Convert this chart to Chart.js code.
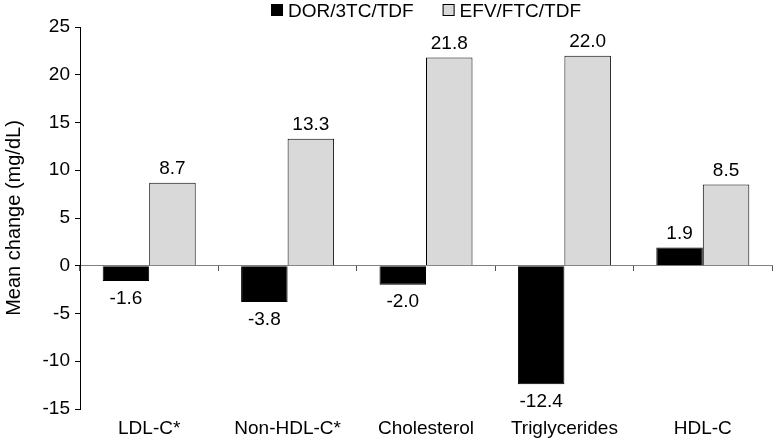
<!DOCTYPE html>
<html><head><meta charset="utf-8">
<script src="https://cdn.jsdelivr.net/npm/chart.js@4/dist/chart.umd.min.js"></script>
<style>html,body{margin:0;padding:0;background:#fff}#wrap{width:774px;height:443px;position:relative}</style>
</head><body><div id="wrap"><canvas id="c" width="774" height="443"></canvas></div>
<script>
const categories = ['LDL-C*', 'Non-HDL-C*', 'Cholesterol', 'Triglycerides', 'HDL-C'];
const dorValues = [-1.6, -3.8, -2.0, -12.4, 1.9];
const efvValues = [8.7, 13.3, 21.8, 22.0, 8.5];
const seriesNames = ['DOR/3TC/TDF', 'EFV/FTC/TDF'];
const yMin = -15, yMax = 25, yStep = 5;
const yTitle = 'Mean change (mg/dL)';

const FONT = "'Liberation Sans', Arial, sans-serif";
const FS = 19;

const valueLabels = {
  id: 'valueLabels',
  afterDatasetsDraw(chart) {
    const ctx = chart.ctx;
    ctx.save();
    ctx.font = FS + 'px ' + FONT;
    ctx.fillStyle = '#000';
    ctx.textAlign = 'center';
    ctx.textBaseline = 'alphabetic';
    chart.data.datasets.forEach((ds, i) => {
      const meta = chart.getDatasetMeta(i);
      meta.data.forEach((bar, j) => {
        const v = ds.data[j];
        const y = v >= 0 ? bar.y - 9 : bar.y + 9 + 13.6;
        ctx.fillText(v.toFixed(1), bar.x, y);
      });
    });
    ctx.restore();
  }
};

const topLegend = {
  id: 'topLegend',
  afterDraw(chart) {
    const ctx = chart.ctx;
    const ca = chart.chartArea;
    ctx.save();
    ctx.font = FS + 'px ' + FONT;
    const box = 12, gap = 5, spacing = 29;
    const items = chart.data.datasets.map(ds => ({ text: ds.label, fill: ds.backgroundColor, w: ctx.measureText(ds.label).width }));
    let total = 0;
    items.forEach((it, i) => { total += box + gap + it.w + (i ? spacing : 0); });
    let x = (ca.left + ca.right) / 2 - total / 2;
    const boxTop = 4, baseline = 16.7;
    items.forEach(it => {
      ctx.fillStyle = it.fill;
      ctx.fillRect(x, boxTop, box, box);
      ctx.strokeStyle = '#000';
      ctx.lineWidth = 1;
      ctx.strokeRect(x + 0.5, boxTop + 0.5, box - 1, box - 1);
      ctx.fillStyle = '#000';
      ctx.textAlign = 'left';
      ctx.textBaseline = 'alphabetic';
      ctx.fillText(it.text, x + box + gap, baseline);
      x += box + gap + it.w + spacing;
    });
    ctx.restore();
  }
};

new Chart(document.getElementById('c'), {
  type: 'bar',
  data: {
    labels: categories,
    datasets: [
      { label: seriesNames[0], data: dorValues, backgroundColor: '#000000', borderColor: '#000000', borderWidth: 1 },
      { label: seriesNames[1], data: efvValues, backgroundColor: '#d9d9d9', borderColor: '#000000', borderWidth: 1 }
    ]
  },
  options: {
    responsive: false,
    animation: false,
    devicePixelRatio: 1,
    layout: { padding: { left: 0, right: 2, top: 27, bottom: 0 } },
    datasets: { bar: { barPercentage: 1, categoryPercentage: 0.672 } },
    plugins: { legend: { display: false }, tooltip: { enabled: false } },
    scales: {
      x: {
        type: 'category',
        position: { y: 0 },
        offset: true,
        ticks: { display: false },
        grid: { display: true, drawOnChartArea: false, drawTicks: true, tickLength: 5, color: '#555555', offset: true },
        border: { display: true, color: '#808080', width: 1 },
        afterFit(s) { s.height = 0; }
      },
      xb: {
        type: 'category',
        position: 'bottom',
        labels: categories,
        offset: true,
        grid: { display: false, drawTicks: false },
        border: { display: false },
        ticks: { color: '#000', font: { family: FONT, size: FS }, padding: 8, maxRotation: 0, autoSkip: false },
        afterFit(s) { s.height = 34; }
      },
      y: {
        min: yMin, max: yMax,
        ticks: { stepSize: yStep, color: '#000', font: { family: FONT, size: FS }, padding: 5 },
        grid: { drawOnChartArea: false, drawTicks: true, tickLength: 5, color: '#000' },
        border: { display: true, color: '#000', width: 1 },
        title: { display: true, text: yTitle, color: '#000', font: { family: FONT, size: 20 }, padding: { top: 2, bottom: 0 } },
        afterFit(s) { s.width = 80; }
      }
    }
  },
  plugins: [valueLabels, topLegend]
});
</script></body></html>
